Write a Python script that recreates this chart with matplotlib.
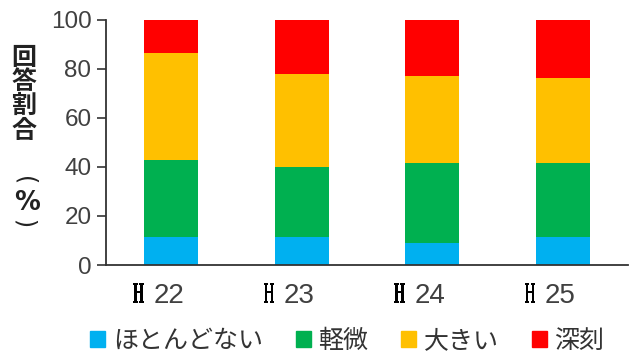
import matplotlib
matplotlib.use('Agg')
import matplotlib.pyplot as plt
from matplotlib.patches import Patch, PathPatch
from matplotlib.textpath import TextPath
from matplotlib.font_manager import FontProperties
from matplotlib.transforms import Affine2D, ScaledTranslation, offset_copy

# survey answers per year (percent, stacked bottom -> top)
years = ['22', '23', '24', '25']
labels = ['ほとんどない', '軽微', '大きい', '深刻']
hardly = [11.5, 11.5, 9.0, 11.3]
slight = [31.3, 28.5, 32.4, 30.1]
large = [43.4, 37.8, 35.6, 34.9]
severe = [13.8, 22.2, 23.0, 23.7]
colors = ['#00B0F0', '#00B050', '#FFC000', '#FF0000']
ylabel_chars = ['回', '答', '割', '合', '(', '%', ')']

fig = plt.figure(figsize=(6.32, 3.55), dpi=100)
ax = fig.add_axes([106 / 632, 90 / 355, 522 / 632, 245.5 / 355])

x = list(range(len(years)))
bottom = [0] * len(years)
for vals, c in zip([hardly, slight, large, severe], colors):
    ax.bar(x, vals, 0.414, bottom=bottom, color=c, linewidth=0)
    bottom = [b + v for b, v in zip(bottom, vals)]

ax.set_xlim(-0.5, 3.5)
ax.set_ylim(0, 100)
ax.set_yticks(range(0, 101, 20))
ax.set_xticks([])
for s in ['top', 'right']:
    ax.spines[s].set_visible(False)
for s in ['left', 'bottom']:
    ax.spines[s].set_color('#333333')
    ax.spines[s].set_linewidth(1.3)
ax.tick_params(axis='y', length=6.5, width=1.2, color='#333333', pad=4,
               labelsize=17.5, labelcolor='#404040')
for t in ax.get_yticklabels():
    t.set_fontfamily('Liberation Sans')


def draw_h(i):
    # tall narrow serif "H" in front of the year number
    path = TextPath((0, 0), 'H', size=1,
                    prop=FontProperties(family='DejaVu Serif', weight='bold'))
    ext = path.get_extents()
    tr = (Affine2D().translate(-ext.x0, -ext.y0)
          .scale(10.5 / ext.width, 20 / ext.height)
          .translate(-38, -38)
          + ScaledTranslation(i, 0, ax.transData))
    fig.add_artist(PathPatch(path, transform=tr, facecolor='black', lw=0))


for i, yr in enumerate(years):
    draw_h(i)
    ax.text(i, 0, yr, transform=offset_copy(ax.transData, fig, x=-18, y=-38, units='dots'),
            ha='left', va='baseline', fontsize=20, color='#404040',
            family='Liberation Sans', clip_on=False)

# vertical axis title, one character per row
ylabel_y = [58, 82, 106, 131, 181, 203, 224]
for ch, py in zip(ylabel_chars, ylabel_y):
    if ch in '()':
        fig.text(24 / 632, 1 - py / 355, ch, ha='center', va='center', rotation=-90,
                 fontsize=17, family='DejaVu Sans', color='#222222')
    elif ch == '%':
        fig.text(27 / 632, 1 - py / 355, ch, ha='center', va='center',
                 fontsize=18.5, fontweight='bold', family='DejaVu Sans', color='#222222')
    else:
        fig.text(24 / 632, 1 - py / 355, ch, ha='center', va='center',
                 fontsize=18, fontweight='bold', family='Noto Sans CJK JP', color='#222222')

handles = [Patch(color=c) for c in colors]
fig.legend(handles, labels, loc='center left', bbox_to_anchor=(90 / 632, 14 / 355),
           ncol=4, frameon=False, handlelength=0.6, handleheight=0.6,
           handletextpad=0.32, columnspacing=1.3, borderpad=0, borderaxespad=0,
           labelcolor='#333333', prop=FontProperties(family='Noto Sans CJK JP', size=18))

fig.savefig('out.png', dpi=100)
